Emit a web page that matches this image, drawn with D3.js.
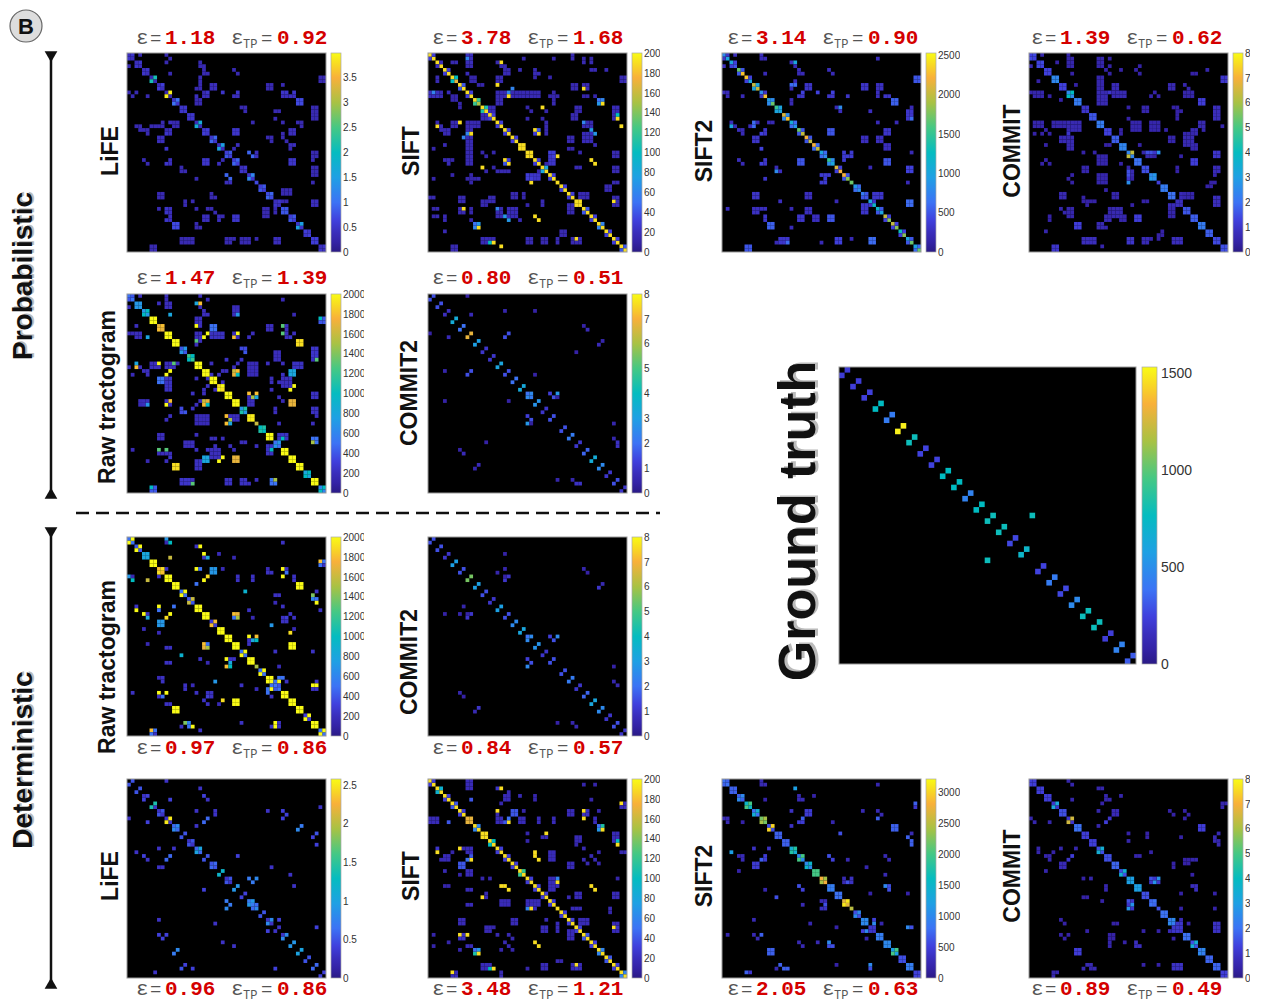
<!doctype html>
<html lang="en">
<head>
<meta charset="utf-8">
<title>Connectomes</title>
<script src="https://cdn.jsdelivr.net/npm/d3@7"></script>
<style>
html, body { margin: 0; padding: 0; background: #fff; }
svg { display: block; }
text { font-family: "Liberation Sans", Arial, sans-serif; }
.eps { font-family: "Liberation Mono", monospace; fill: #555; }
.num { font-family: "Liberation Mono", monospace; font-weight: bold; fill: #d40000; }
.cb text { fill: #333; }
.cb path, .cb line { stroke: #999; }
</style>
</head>
<body>
<script>
// Data: matrices are symmetric, 53 nodes. self = diagonal (27 = one value per pair, 53 = one per node),
// pair = the (a,a+1) cell of each of the 26 node pairs, edges = [row(s), col(s), value] upper triangle.
var n = 53;

var gtSelf = [];
var gtPair = [220,230,240,760,420,1500,780,250,250,760,760,450,760,780,780,260,720,250,420,260,480,780,780,230,450,320];
var gtEdges = [[26,34,780]];

var lifeProbSelf = [.4,.4,.4,.3,.4,.3,.5,.5,.5,.4,.5,.5,.4,.6,.6,.4,.5,.7,.6,.7,.4,.8,.6,.5,.6,.6,.4];
var lifeProbPair = [.5,.5,.5,2.1,.6,3.9,1,.5,.5,1.7,.6,.9,1.5,.8,.9,.5,1.2,.8,.9,.5,.8,.8,1.5,.5,.6,.5];
var lifeProbEdges = [[0,3,.3],[0,10,.3],[1,11,.3],[2,10,.3],[2,19,.3],[3,[19,20],.3],[4,[20,28],.3],[5,[11,20,21,29],.3],
[6,[19,51,52],.3],[7,[19,51],.3],[[8,9],[22,23],.4],[8,[19,37,38,41],.3],[9,[18,19,37,38],.3],[10,[21,25,29,41,42,44],.5],[10,20,.3],
[11,[18,20,21,28,29,41,42,43,44],.4],[[12,13],[18,19],.3],[[12,13],[45,46],.7],[14,[30,31],.3],[15,[31,39,40],.3],[[14,15,16,17],[49,50],.3],
[17,39,.3],[18,[33,41,45,46],.3],[19,46,.3],[[20,21],[28,29],.5],[[20,21],[43,44],.4],[21,41,.3],[22,[37,38,41],.3],[23,[38,42],.3],
[24,[29,43,44],.4],[25,[28,43],.3],[26,[32,34],.9],[27,[33,34],.9],[26,50,.3],[27,[49,50],.3],[[28,29],[43,44],.5],[28,49,.3],
[[30,31,32],[49,50],.3],[32,26,.9],[34,[26,27,49],.4],[[36,37],[41,42,43],.3],[[39,40],[49,50],.4],[26,[49],.3],[30,49,.3],[39,[41,42],.3],
[[43,44],[28,29],.5],[[6,7],[52],.3],[15,49,.3],[[16,17],[49],.3],[34,49,.3]];

var siftProbSelf = [190,190,190,190,190,190,190,170,190,190,190,190,190,150,190,190,190,190,190,190,190,190,190,190,190,190,190,190,190,190,190,190,190,190,190,190,190,190,190,190,190,190,190,190,190,190,190,190,190,190,190,190,190];
var siftProbPair = [30,20,30,100,40,30,120,110,30,30,30,30,190,190,30,80,30,30,30,190,40,30,60,30,30,40];
var siftProbEdges = [[[0,1,2],[10,11],20],[1,10,60],[2,19,190],[[0,1],[38],15],[1,[25,33,41,43],12],[2,[6,7,18,41,43],15],[3,[10,11,19,20],15],[4,[20,21,24,28,43,44,47],15],
[5,[10,20,21,28,29],18],[[6,7],[18,19],15],[6,[28,32],12],[6,51,190],[7,[52,51],40],[[6,7],[11,12],12],[8,[13,14],12],[8,18,190],[9,22,60],[[8,9],[38,39,41,42],15],[9,41,190],
[[10,11],[18,19,20,22,23,24,25,26,27,28,29],16],[10,21,60],[11,21,190],[10,33,12],[11,[32,33,34,41,42,44],12],[[12,13],[18,19],15],[12,33,12],[12,46,60],[13,46,190],[13,45,70],[12,45,50],[13,33,15],
[[14,15,16,17],[14,15,16,17],18],[14,[26],12],[15,[27,31,39,40],12],[14,30,190],[14,[39,40],15],[[14,15,16,17],[49,50],15],[16,50,130],[17,50,190],[[16,17],[38,39],15],[17,[26,30],12],
[[18,19,20,21],[31],15],[[18,19],[41,42,43],15],[18,[41],60],[20,[28],190],[21,29,190],[20,29,40],[21,28,30],[20,43,70],[21,44,70],[[22,23],[37,38],15],[[21,22,23],[41,42,43],18],[24,44,15],[25,[37,38],12],[26,40,12],
[[26,27],[49,50],15],[28,43,190],[29,44,190],[27,34,190],[26,[32,33],30],[[27,28,29],[32,33],25],[27,34,190],[30,[39,40],15],[[30,31],[49,50],15],[31,29,12],[33,27,30],[34,27,190],
[[37,38],[40,41,42],15],[39,49,190],[[35,36],[47,48],15],[[40],[37,38],15],[[47,48],[35,36],15],[[49,50],[14,15],18],[50,[16],100],[50,17,190],[[49,50],[26,27,30,31,34,38,39,40],15],[49,39,190],[51,[6,19],190],[[51,52],[6,7],15]];

var sift2ProbSelf = [800,1000,1000,500,1700,2300,2300,1000,2000,2000,800,2300,900,1700,1500,1000,2100,2300,1100,900,1700,2000,2200,2000,2200,2000,1000,800,1500,1000,2100,2200,2200,1800,1700,900,800,700,500,1000,1200,1200,1000,2000,1800,2000,1800,1300,1800,1000,1700,1000,1700];
var sift2ProbPair = [300,400,500,400,1000,300,800,1000,800,600,500,500,600,600,800,400,500,600,500,300,500,400,400,400,500,600];
var sift2ProbEdges = [[0,[3,10],250],[1,[10,11,41],220],[2,[18],250],[2,19,1000],[3,[19],200],[4,[20,28],250],[5,[11,20,21,29],220],[6,[51,52],300],[6,51,900],[7,[19,51],220],[8,[18,19],600],[9,18,200],
[[8,9],[22,23],300],[[8,9],[37,38],300],[[8,9],[41,42],280],[10,[21,25,29,41],400],[10,41,900],[11,[20,21,28,29,33,41,43,44],300],[[12,13],[45,46],500],[[12,13],[18],200],
[14,[30],220],[14,31,800],[15,[31,39],260],[14,50,220],[[15,16,17],[49,50],320],[18,[41,46],220],[[20,21],[28,29],500],[[20,21],[43,44],320],[[22,23],[37,38],260],[[22,23],[41,42],260],[[24,25],[43,44],260],[26,50,220],
[26,[32,34],350],[[27,28],[32],350],[27,[33,34],350],[[28,29],[43,44],500],[[30,31],[49,50],320],[30,39,220],[34,49,220],[[39,40],[49,50],600],[[37,38],[40,41,42],320],
[[49,50],[15,16,17],320],[50,17,600],[49,[34],220],[50,26,220],[[49,50],[30,31],400],[[51,52],[6,7],500],[[45,46],[12,13],550],[[41],[1,8,9,10,11],260],[[41,42],[22,23],260]];

var commitProbSelf = [1.3,1.3,1.3,2.5,1.3,2.5,2.2,1,1.6,2.2,1.3,1.7,2.4,2.4,2,1.5,2.5,1.2,2.2,2,.8,1.6,1.7,2.2,1.7,1.4,1.5];
var commitProbPair = [1.4,1.4,1.3,2.4,1.3,4,2.2,1,1.6,2.2,1.3,1.7,2.4,6.3,2,1.5,2.8,2.2,2,.8,1.6,1.7,2.2,1.7,1.4,1.5];
var commitProbEdges = [[0,[3,10],.5],[[1,2,3],[10,11],.5],[[1,2,3],[18,19],.5],[[1,3],[21],.4],[2,7,.4],[5,11,.4],[4,[20,24,28],.4],[5,[21,43,44],.4],[3,29,.4],[5,29,.4],[4,47,.3],[[6,7],[51,52],.6],
[[6,7,8,9],[18,19],.5],[8,12,.4],[[8,9],[22,23],.7],[[8,9],[37,38],.6],[8,41,.5],[9,42,.5],[[10,11],[41,42,43],.5],[[10,11,12,13],[18,19,20],.6],[10,21,1],[[10,11],[22,23,24,25],.6],[11,[32,34],.4],[10,33,.4],[[12,13],[45,46],1.2],
[[14,15],[30,31],.5],[14,[26,38],.4],[17,26,.4],[[14,15,16,17],[39],.4],[15,40,.4],[[14,15,16,17],[49,50],.6],[19,51,.5],[[18,19,20],[27,28,29],.5],[[18,19,20],[32,33,34],.5],[[20,21],[24],.4],[20,36,.4],[[20,21],[43,44],.6],[[18,19,20],[46],.5],
[[22,23],[37,38],.5],[[21,22,23],[41,42,43],.5],[[24,25],[43,44],.5],[24,29,.4],[26,[30,31],.5],[26,[32,34],1.5],[26,33,1],[27,[33,40],.4],[[26,27],[49,50],.7],[[28,29],[43,44],1],[[30,31],[39],.4],[[30,31],[49,50],.6],[32,49,.5],[35,[47,48],.4],[34,48,.4],
[[37,38],[40,41,42],.7],[[41,42,43],[37,38],.5],[26,[31,34],1.5],[27,[31,32],.6],[34,26,2.6],[[32,33,34],[18,19,20],.5],[[49,50],[14,15,16,17],.8],[[49,50],[26,27],1],[[49,50],[30,31],.7],[34,49,.4],[48,35,.4],[[49,50],[38,39,40],.8],[51,19,.5],[[51,52],[6,7],1],[47,4,.5],[[43,44],[5],.4],[[45,46],[18,19],.6],[[41,42,43],[22,23,24],.6],[[43,44],[28,29],1.2]];

var rawProbSelf = [500,700,700,2000,1700,2000,2000,400,1200,2000,2000,2000,1900,2000,2000,700,1950,1600,1000,2000,500,2000,2000,2000,800,2000,600];
var rawProbPair = [400,700,1000,2000,1800,2000,2000,700,1000,2000,2000,2000,2000,2000,2000,1100,1950,1100,2000,700,2000,2000,2000,1000,2000,1000];
var rawProbEdges = [[0,[3,10,19],200],[1,[10,21,41],180],[2,[8,10,11],200],[3,[10,11,19],200],[2,18,800],[2,19,1800],[3,[28,29],180],[[4,5],[20],200],[5,21,200],[[4,5],[28,29],200],[5,29,700],[5,11,800],[5,44,150],
[6,51,1000],[[6,7],[52],200],[7,51,200],[[6,7,8],[18,19],200],[8,18,2000],[[8,9],[22,23],500],[[8,9],[37,38],200],[8,41,1300],[[8,9],[42],200],[10,41,1200],[[10,11],[42],200],
[[10,11],[18,19],200],[10,21,2000],[11,20,2000],[[10,11],[22,23,24,25],220],[11,28,1800],[10,29,2000],[10,28,200],[11,29,200],[10,33,200],[11,32,200],[10,44,200],[11,43,250],
[12,18,1300],[12,19,200],[13,18,200],[13,45,1800],[12,46,1800],[12,45,1300],[13,46,1300],[14,[30,31],350],[15,31,400],[[14,15],[49,50],200],[16,50,600],[16,49,300],[17,50,1300],[17,49,200],[[15,16,17],[39,40],200],[17,[26,30],220],
[18,[22,29,37,41],200],[19,28,200],[[18,19,20,21],[32,33,34],180],[[18,19],[44,45,46],220],[20,28,1600],[20,29,1800],[21,28,1700],[21,29,1000],[20,[25,26],200],[21,[22,24,41],220],[[20,21],[43,44],800],[22,[38,43],200],[23,[25,38,40,41,42],200],[24,44,2000],[25,43,2000],[25,38,200],
[26,32,1800],[26,34,2000],[27,33,1500],[27,34,1000],[27,32,200],[[28,29],[32,33],200],[[28,29],[43,44],1700],[27,40,200],[28,41,150],[[30,31],[39],200],[[30,31],[49,50],200],[34,40,200],[32,[26],1800],[34,26,1800],[34,27,800],
[[37,38],[40,41,42],220],[38,49,1500],[38,50,600],[39,[49,50],400],[[41,42],[37,38],220],[41,38,1000],[41,[8,10],1300],[[41,42,43],[22,23,24],200],[[43,44],[20,21],800],[43,25,2000],[44,24,2000],[[44,45,46],[18,19],220],[[45,46],[12,13],1900],
[[49,50],[14,15,16],250],[50,17,1300],[[49,50],[26,27],220],[[49,50],[30,31],220],[50,32,200],[49,34,200],[[49,50],[38,39],500],[49,39,1500],[51,6,1000],[[51,52],[7],400],[52,6,400]];

var commit2ProbSelf = [];
var commit2ProbPair = [1.5,1.5,.8,3.4,2,6.8,3,1,1,3.2,1.5,2,3.3,2.5,2.7,1,1.5,1.5,2.2,1,1.8,3.4,2.5,1,1.5,1];
var commit2ProbEdges = [[26,26,2],[27,27,2.2],[0,10,.4],[5,11,.7],[4,20,.5],[4,28,.4],[8,41,.4],[9,42,.7],[10,21,1.5],[11,20,1.5],[12,46,.5],[13,45,.7],[15,39,.3],[21,28,.4],[26,[32],1.2],[26,34,3],[27,33,1.5],[27,34,.3],[26,34,2.8],
[34,49,.4],[38,49,.6],[39,50,.6],[40,50,.8],[39,15,.4],[41,8,.4],[49,[34,38],.5],[50,[39,40],.9]];

var rawDetSelf = [500,400,800,2000,1800,2000,2000,500,400,2000,2000,300,2000,2000,2000,500,2000,1500,500,2000,500,2000,2000,2000,300,2000,500];
var rawDetPair = [2000,2000,800,2000,1900,2000,2000,2000,1600,2000,2000,1800,2000,2000,2000,2000,2000,2000,2000,400,2000,2000,2000,2000,2000,2000];
var rawDetEdges = [[0,10,700],[1,10,150],[1,11,1000],[1,41,150],[2,18,220],[2,19,2000],[4,[20],2000],[5,20,220],[5,21,800],[4,24,180],[5,11,1600],[5,28,150],[6,51,1800],[6,52,220],[7,51,500],
[8,18,2000],[8,19,500],[8,[10],220],[[8,9],[22,23],700],[8,25,180],[8,37,180],[8,41,2000],[9,[37,38],220],[9,42,600],[10,21,1900],[11,20,2000],[[10,11],[29,33,44],220],[10,41,2000],[12,18,500],[12,46,2000],[13,[45,46],2000],
[14,31,900],[15,[39,40],220],[14,50,220],[15,49,1500],[16,49,500],[16,50,220],[17,50,1800],[17,39,180],[18,41,220],[19,[32,51],220],[20,28,1800],[20,29,1700],[21,28,500],[21,29,1500],[21,33,150],[20,43,180],[21,44,180],[[21,22],[41,42],300],[23,38,700],[24,44,150],[25,43,1900],
[26,32,2000],[26,34,1000],[27,33,800],[27,32,1400],[27,34,700],[[28,29],[43,44],2000],[30,[39,49],220],[34,26,1800],[34,27,1000],[32,[27,28],220],[34,40,180],[37,[40,41],500],[38,[42,50],220],[[38,39,40],[38,39,40],500],[39,[49,50],2000],[40,[49,50],220],[38,40,2000],
[41,[1,18,21,22],220],[41,[8,10],2000],[42,9,500],[42,[8,22],220],[[43,44],[28,29],2000],[43,20,220],[44,21,220],[44,[10,11],220],[[45,46],[12,13],2000],[49,15,1400],[49,16,600],[50,[14],220],[50,16,500],[50,17,2000],[51,19,220],[49,30,220],[[49,50],[39],2000],[[49,50],[40],220],[50,38,220],
[51,6,1800],[51,7,500],[52,6,500],[52,7,220]];

var commit2DetSelf = [];
var commit2DetPair = [1.5,1.5,1,3,1.5,5.5,3,1.5,1,3,1.5,2.5,3.2,2.5,2.7,1,1.5,1.5,2.2,1,1.8,3.2,2.5,1,1.5,1];
var commit2DetEdges = [[10,21,1],[11,20,1],[10,20,.4],[8,41,.5],[9,42,.4],[12,46,.5],[13,45,.5],[4,20,.4],[26,26,2],[26,32,1.2],[26,34,2.5],[27,33,1.5],[26,34,2.5],[12,46,.6],[13,45,1],[8,20,.5],[9,18,.5],[34,49,.4],[50,39,.6],[49,38,.5]];

var lifeDetSelf = [];
var lifeDetPair = [.5,.5,.4,1.4,.5,2.5,.8,.5,.5,1,.5,.6,1.2,.5,.9,.4,.9,.5,.8,.3,.8,.9,1,.5,.6,.4];
var lifeDetEdges = [[4,4,.3],[7,7,.3],[8,8,.3],[9,9,.3],[10,10,.3],[11,11,.3],[12,12,.6],[13,13,.6],[16,16,.3],[17,17,.3],[18,18,.6],[19,19,.6],[22,22,.5],[23,23,.5],[26,26,.3],[27,27,.3],[32,32,.7],[33,33,.7],[34,34,.8],[33,34,.6],
[0,10,.3],[2,19,.3],[4,20,.4],[5,21,.3],[5,11,.4],[8,18,.3],[[8,9],[23],.3],[8,37,.3],[8,41,.4],[9,42,.4],[10,41,.3],[7,51,.3],[10,21,.6],[11,20,.6],[12,18,.3],[12,46,.5],[13,45,.7],[14,50,.4],[15,49,.4],[17,50,.3],[20,29,.4],[23,38,.3],[25,43,.3],[28,44,.3],[26,32,.5],[26,34,.8],[27,33,.5],
[32,26,.7],[33,27,.7],[34,26,.8],[37,40,.4],[39,50,.4],[41,10,.4],[45,13,.8],[46,12,.7],[49,15,.4],[50,14,.5],[50,17,.4],[50,39,.4],[51,7,.3],[37,37,.3],[38,38,.3],[41,41,.3]];

var siftDetSelf = [190,190,190,190,190,190,190,190,190,190,170,170,190,190,190,190,190,190,190,190,190,190,190,190,190,190,190,190,190,190,190,190,190,190,190,190,190,190,190,190,190,190,190,190,190,190,190,190,190,190,190,190,190];
var siftDetPair = [30,90,30,40,30,170,60,190,100,30,30,30,120,30,30,30,30,30,30,30,40,30,60,40,30,60];
var siftDetEdges = [[[0,1,2],[10,11],18],[1,[41,44],12],[2,18,25],[2,19,190],[3,21,15],[[4,5],[20,21],18],[4,24,15],[[4,5],[28],12],[5,11,40],[5,43,12],[6,51,190],[7,52,40],[6,19,12],[6,52,25],[8,18,190],[[8,9],[22,23],40],[8,25,12],[[8,9],[37,38],18],[9,18,15],[[8,9],[41,42],22],[8,45,12],[10,41,190],[11,21,190],[10,21,50],[11,20,40],
[[10,11],[18,19],18],[[10,11],[24,25],18],[[10,11],[29,33,44],18],[12,46,190],[13,45,70],[12,45,50],[13,46,60],[14,31,190],[14,26,12],[16,26,12],[15,[30,31],15],[[15,16],[39,40],16],[17,39,12],[[14,15],[49,50],18],[16,50,120],[17,50,190],[18,41,15],[19,28,190],[19,[45,52],12],[20,28,190],[21,29,190],[[19,20,21],[32,33],18],[20,43,15],[21,44,15],[22,45,12],[[22,23],[37,38],18],[21,41,15],[22,42,15],
[26,50,12],[26,34,60],[26,32,25],[27,33,35],[27,34,25],[28,[32,33,34],18],[28,43,190],[29,44,190],[[30,31],[39],18],[[30,31],[49,50],18],[31,37,15],[34,27,190],[[32,33],[26,27,28,29],18],[34,[38,40,48],15],[35,48,12],[[37,38],[40,41,42],18],[39,49,190],[[38,39,40],[49,50],22],[[39,40],[30,31],18],[[38,39,40],[34],18],
[41,8,190],[41,10,190],[[49,50],[14,15,16],18],[50,16,100],[50,17,190],[[49,50],[30,31],18],[49,39,190],[[49,50],[38,40],18],[51,6,190],[[51,52],[7],18],[52,6,18],[[51,52],[19],15],[46,13,190],[46,12,110]];

var sift2DetSelf = [800,700,700,1500,800,2200,600,700,700,1400,1000,1000,2000,2800,900,800,2700,2500,600,1000,400,900,1000,1200,600,900,500];
var sift2DetPair = [700,700,1000,2000,1400,2400,3000,700,700,1800,2000,1500,2000,2400,900,800,3100,1000,1000,400,900,1000,2000,600,900,500];
var sift2DetEdges = [[0,10,250],[1,[10,11],250],[1,41,180],[2,19,1200],[4,20,250],[5,[20,21],280],[4,24,180],[5,11,180],[8,18,1200],[[8,9],[22,23],450],[8,[37,41],250],[9,42,250],[10,41,900],[6,51,800],[7,51,250],[10,21,700],[11,[20,21],450],[11,29,220],[12,18,220],[12,46,600],[13,[45,46],800],[14,31,600],[14,50,250],[15,49,250],[[16,17],[50],600],[18,[8,12],350],[20,28,600],[21,29,500],[21,33,250],[20,43,250],[21,44,250],[23,38,250],[25,43,250],[26,[32,34],450],[27,[32,33,34],450],[28,43,1200],[[28,29],[44],700],[30,39,250],[30,49,250],[32,[26,27],250],[33,27,600],[34,[26,27],350],
[37,40,500],[38,40,1000],[38,[23,42],220],[39,30,180],[39,49,1000],[39,50,350],[41,1,220],[41,8,250],[41,10,700],[42,9,250],[43,20,250],[44,21,250],[43,25,250],[43,28,1000],[44,[28,29],600],[[45,46],[12,13],700],[50,14,250],[49,15,700],[50,[16,17],700],[49,30,180],[49,39,1000],[50,39,600],[51,6,700],[51,7,400]];

var commitDetSelf = [1.2,1.2,1.2,1,1.5,1,2,1.2,1.2,1.5,1.5,1.8,1.5,3,3,1.5,1.8,1.5,2,2.2,1,2,1.5,2.2,1.8,1.8,1.2];
var commitDetPair = [1.2,1.2,1.2,3.2,1.5,6.5,2,1.2,1.2,3.5,1.5,1.8,3.5,3,3,1.5,2,2,2.5,1,2,3.4,2.5,1.8,1.8,1.2];
var commitDetEdges = [[0,10,.5],[1,11,.5],[2,[18,19],.5],[4,[20,24],.5],[5,[20,21,11],.5],[6,19,.4],[6,[51,52],.5],[7,51,.5],[8,[18,37,41],.4],[[8,9],[22,23],.7],[9,[38,42],.4],[10,41,.3],[10,21,1],[11,20,1.2],[12,18,.3],[[12,13],[45,46],1.2],[14,[26,31,50],.4],[15,[31,40],.4],[15,49,.5],[16,[26,50],.5],[17,50,.4],[18,[8,12],.5],[19,32,.4],[20,[28,29],.5],[[22,23],[38],.4],[[21,22],[41,42],.5],[21,[43,44],.5],[25,43,.4],
[26,34,1.5],[26,32,1],[26,33,1],[27,[32,33],1],[27,34,1],[[28],[43,44],.8],[29,44,.8],[30,[40,49],.4],[34,[40,49],.4],[32,26,1.5],[33,27,2.7],[34,26,2.7],[37,40,.7],[[38,39,40],[38,39,40],1],[38,[42,23],.4],[40,[34,30],.4],[[38,39,40],[49,50],.8],[41,[8,10],.4],[42,9,.4],[[41,42],[21,22],.4],[42,38,.4],[43,25,.4],[43,28,.8],[44,[28,29],.8],[[49],[15,16],.6],[50,[14,17],.6],[49,[30,34],.4],[[49,50],[38,39,40],.9],[51,[6,7],.5],[52,6,.5]];

var colorDomain = [0,.05,.1,.16,.25,.375,.5,.625,.75,.875,.94,1];
var colorRange = ["#2a1a85","#3423a6","#3a2ebc","#4040dd","#3c73f5","#1fa0e4","#05bcc0","#45c884","#a8c244","#f8b03a","#f8d824","#f9fb15"];

// tick values of the colorbars
var tickLife = [0,.5,1,1.5,2,2.5,3,3.5], tickLifeDet = [0,.5,1,1.5,2,2.5];
var tickSift = d3.range(0,201,20), tickRaw = d3.range(0,2001,200), tickSift2 = d3.range(0,2501,500), tickSift2Det = d3.range(0,3001,500), tickCommit = d3.range(0,9);

var panels = [
 {label:"LiFE", self:lifeProbSelf, pair:lifeProbPair, edges:lifeProbEdges, e:"1.18", tp:"0.92", max:3.98, ticks:tickLife, x:127, y:53, tx:9, ty:44, lx:118, ly:151, clip:364},
 {label:"SIFT", self:siftProbSelf, pair:siftProbPair, edges:siftProbEdges, e:"3.78", tp:"1.68", max:200, ticks:tickSift, x:428, y:53, tx:4, ty:44, lx:419, ly:151, clip:660},
 {label:"SIFT2", self:sift2ProbSelf, pair:sift2ProbPair, edges:sift2ProbEdges, e:"3.14", tp:"0.90", max:2530, ticks:tickSift2, x:722, y:53, tx:5, ty:44, lx:712, ly:151, clip:960},
 {label:"COMMIT", self:commitProbSelf, pair:commitProbPair, edges:commitProbEdges, e:"1.39", tp:"0.62", max:8, ticks:tickCommit, x:1029, y:53, tx:2, ty:44, lx:1020, ly:151, clip:1250},
 {label:"Raw tractogram", self:rawProbSelf, pair:rawProbPair, edges:rawProbEdges, e:"1.47", tp:"1.39", max:2000, ticks:tickRaw, x:127, y:294, tx:9, ty:284, lx:115, ly:397, clip:364},
 {label:"COMMIT2", self:commit2ProbSelf, pair:commit2ProbPair, edges:commit2ProbEdges, e:"0.80", tp:"0.51", max:8, ticks:tickCommit, x:428, y:294, tx:4, ty:284, lx:417, ly:393, clip:660},
 {label:"Raw tractogram", self:rawDetSelf, pair:rawDetPair, edges:rawDetEdges, e:"0.97", tp:"0.86", max:2000, ticks:tickRaw, x:127, y:537, tx:9, ty:754, lx:115, ly:667, clip:364},
 {label:"COMMIT2", self:commit2DetSelf, pair:commit2DetPair, edges:commit2DetEdges, e:"0.84", tp:"0.57", max:8, ticks:tickCommit, x:428, y:537, tx:4, ty:754, lx:417, ly:662, clip:660},
 {label:"LiFE", self:lifeDetSelf, pair:lifeDetPair, edges:lifeDetEdges, e:"0.96", tp:"0.86", max:2.58, ticks:tickLifeDet, x:127, y:779, tx:9, ty:995, lx:118, ly:876, clip:362},
 {label:"SIFT", self:siftDetSelf, pair:siftDetPair, edges:siftDetEdges, e:"3.48", tp:"1.21", max:200, ticks:tickSift, x:428, y:779, tx:4, ty:995, lx:419, ly:876, clip:660},
 {label:"SIFT2", self:sift2DetSelf, pair:sift2DetPair, edges:sift2DetEdges, e:"2.05", tp:"0.63", max:3210, ticks:tickSift2Det, x:722, y:779, tx:5, ty:995, lx:712, ly:876, clip:960},
 {label:"COMMIT", self:commitDetSelf, pair:commitDetPair, edges:commitDetEdges, e:"0.89", tp:"0.49", max:8, ticks:tickCommit, x:1029, y:779, tx:2, ty:995, lx:1020, ly:876, clip:1250}
];

var svg = d3.select("body").append("svg").attr("width", 1262).attr("height", 1000);
var defs = svg.append("defs");
defs.append("filter").attr("id", "soft").attr("x", "-2%").attr("y", "-2%").attr("width", "104%").attr("height", "104%")
  .append("feGaussianBlur").attr("stdDeviation", .55);
defs.append("filter").attr("id", "softer").append("feGaussianBlur").attr("stdDeviation", .4);

// nodes of the 26 pairs; node 34 stands alone
var pairStart = d3.range(26).map(function(k) { return k < 17 ? 2 * k : 2 * k + 1; });

function buildCells(self, pair, edges) {
  var m = new Map();
  function put(r, c, v) {
    m.set(r + "," + c, {r: r, c: c, v: v});
    m.set(c + "," + r, {r: c, c: r, v: v});
  }
  edges.forEach(function(e) {
    [].concat(e[0]).forEach(function(r) {
      [].concat(e[1]).forEach(function(c) { put(r, c, e[2]); });
    });
  });
  if (self.length == 53) self.forEach(function(v, i) { put(i, i, v); });
  else if (self.length) {
    pairStart.forEach(function(a, k) {
      var v = self[k < 17 ? k : k + 1];
      put(a, a, v); put(a + 1, a + 1, v);
    });
    put(34, 34, self[17]);
  }
  pair.forEach(function(v, k) { put(pairStart[k], pairStart[k] + 1, v); });
  return Array.from(m.values()).filter(function(d) { return d.v > 0; });
}

function colorScale(max) {
  return d3.scaleLinear().domain(colorDomain.map(function(t) { return t * max; })).range(colorRange).clamp(true);
}

var clipId = 0;
function drawMatrix(p, size, barX, barW, fontSize) {
  var band = d3.scaleBand().domain(d3.range(n)).range([0, size]);
  var color = colorScale(p.max);
  var g = svg.append("g").attr("transform", "translate(" + p.x + "," + p.y + ")");

  g.append("rect").attr("width", size).attr("height", size).attr("fill", "#000");
  g.append("g").attr("filter", size > 250 ? "url(#softer)" : "url(#soft)")
    .selectAll("rect").data(buildCells(p.self, p.pair, p.edges)).join("rect")
    .attr("x", function(d) { return band(d.c); })
    .attr("y", function(d) { return band(d.r); })
    .attr("width", band.bandwidth())
    .attr("height", band.bandwidth())
    .attr("fill", function(d) { return color(d.v); });
  g.append("rect").attr("width", size).attr("height", size).attr("fill", "none").attr("stroke", "#999").attr("stroke-width", 1);

  // colorbar
  var id = "cb" + (clipId++);
  var grad = defs.append("linearGradient").attr("id", id).attr("x1", 0).attr("y1", 1).attr("x2", 0).attr("y2", 0);
  colorDomain.forEach(function(t, i) {
    grad.append("stop").attr("offset", t).attr("stop-color", colorRange[i]);
  });
  defs.append("clipPath").attr("id", id + "c").append("rect")
    .attr("x", 0).attr("y", -8).attr("width", p.clip ? p.clip - p.x - barX : 200).attr("height", size + 16);
  var y = d3.scaleLinear().domain([0, p.max]).range([size, 0]);
  var bar = g.append("g").attr("transform", "translate(" + barX + ",0)");
  bar.append("rect").attr("width", barW).attr("height", size).attr("fill", "url(#" + id + ")").attr("stroke", "#aaa").attr("stroke-width", .7);
  var ax = bar.append("g").attr("class", "cb").attr("clip-path", "url(#" + id + "c)").append("g").attr("transform", "translate(" + barW + ",0)")
    .call(d3.axisRight(y).tickValues(p.ticks).tickSize(0).tickPadding(fontSize > 12 ? 4 : 2).tickFormat(function(d) { return d; }));
  ax.select(".domain").remove();
  ax.selectAll("text").attr("font-size", fontSize);
}

function drawTitle(p) {
  var g = svg.append("g").attr("transform", "translate(" + (p.x + p.tx) + "," + p.ty + ")");
  g.append("text").attr("class", "eps").attr("font-size", 21).text("ε");
  g.append("text").attr("class", "eps").attr("x", 14).attr("font-size", 19).text("=");
  g.append("text").attr("class", "num").attr("x", 29).attr("font-size", 21).text(p.e);
  g.append("text").attr("class", "eps").attr("x", 95).attr("font-size", 21).text("ε");
  g.append("text").attr("class", "eps").attr("x", 107).attr("y", 4).attr("font-size", 12).text("TP");
  g.append("text").attr("class", "eps").attr("x", 125).attr("font-size", 19).text("=");
  g.append("text").attr("class", "num").attr("x", 141).attr("font-size", 21).text(p.tp);
}

function vertical(txt, x, y, size, shadow) {
  if (shadow) {
    svg.append("text").attr("transform", "translate(" + (x + shadow) + "," + (y - shadow / 2) + ") rotate(-90)")
      .attr("text-anchor", "middle").attr("font-size", size).attr("font-weight", "bold").attr("fill", "#bbb").text(txt);
  }
  svg.append("text").attr("transform", "translate(" + x + "," + y + ") rotate(-90)")
    .attr("text-anchor", "middle").attr("font-size", size).attr("font-weight", "bold").attr("fill", "#111").text(txt);
}

panels.forEach(function(p) {
  drawMatrix(p, 199, 204, 10, 10);
  drawTitle(p);
  vertical(p.label, p.lx, p.ly, 23);
});

drawMatrix({self: gtSelf, pair: gtPair, edges: gtEdges, max: 1530, ticks: [0,500,1000,1500], x: 839, y: 367}, 297, 303, 15, 14);
vertical("Ground truth", 815, 521, 52, 3);
vertical("Probabilistic", 32, 276, 28, 2);
vertical("Deterministic", 32, 760, 28, 2);

// brackets on the left
function bracket(y0, y1) {
  svg.append("line").attr("x1", 51).attr("x2", 51).attr("y1", y0).attr("y2", y1).attr("stroke", "#111").attr("stroke-width", 2.5);
  svg.append("path").attr("d", d3.symbol().type(d3.symbolTriangle).size(70)()).attr("fill", "#111")
    .attr("transform", "translate(51," + (y0 + 3) + ") rotate(180)");
  svg.append("path").attr("d", d3.symbol().type(d3.symbolTriangle).size(70)()).attr("fill", "#111")
    .attr("transform", "translate(51," + (y1 - 3) + ")");
}
bracket(52, 498);
bracket(528, 988);

svg.append("line").attr("x1", 76).attr("x2", 660).attr("y1", 513).attr("y2", 513)
  .attr("stroke", "#111").attr("stroke-width", 2.5).attr("stroke-dasharray", "13,7");

svg.append("circle").attr("cx", 26).attr("cy", 26).attr("r", 16).attr("fill", "#ddd").attr("stroke", "#666").attr("stroke-width", 1.2);
svg.append("text").attr("x", 26).attr("y", 34).attr("text-anchor", "middle").attr("font-size", 22).attr("font-weight", "bold").attr("fill", "#111").text("B");
</script>
</body>
</html>
